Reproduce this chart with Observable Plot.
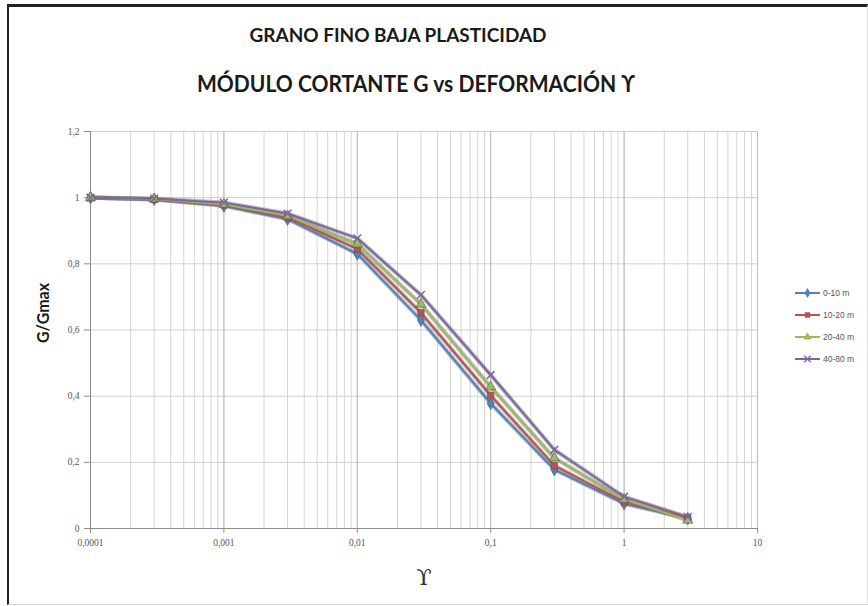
<!DOCTYPE html>
<html>
<head>
<meta charset="utf-8">
<script src="https://cdn.jsdelivr.net/npm/d3@7"></script>
<script src="https://cdn.jsdelivr.net/npm/@observablehq/plot@0.6"></script>
<style>
  html, body { margin: 0; padding: 0; background: #fff; }
  #wrap { position: relative; width: 868px; height: 606px; overflow: hidden; background: #fff; }
  #wrap svg.plot { position: absolute; left: 0; top: 0; }
  #frame { position: absolute; left: 7px; top: 4px; width: 861px; height: 601px; box-sizing: border-box;
           border-left: 2px solid #222; border-top: 3px solid #222; border-right: 1px solid #e4e4e4; border-bottom: 1px solid #d4d4d4; }
</style>
</head>
<body>
<div id="wrap"></div>
<script>
// ---- data ----
const gamma = [0.0001, 0.0003, 0.001, 0.003, 0.01, 0.03, 0.1, 0.3, 1, 3];
const seriesNames = ["0-10 m", "10-20 m", "20-40 m", "40-80 m"];
const g0_10  = [1.000, 0.995, 0.975, 0.935, 0.830, 0.630, 0.378, 0.178, 0.075, 0.030];
const g10_20 = [1.000, 0.995, 0.978, 0.940, 0.845, 0.652, 0.402, 0.190, 0.080, 0.032];
const g20_40 = [1.000, 0.996, 0.980, 0.945, 0.860, 0.678, 0.428, 0.213, 0.088, 0.025];
const g40_80 = [1.000, 0.997, 0.985, 0.952, 0.877, 0.706, 0.464, 0.238, 0.096, 0.035];
const xTicks = [0.0001, 0.001, 0.01, 0.1, 1, 10];
const xTickLabels = ["0,0001", "0,001", "0,01", "0,1", "1", "10"];
const yTicks = [0, 0.2, 0.4, 0.6, 0.8, 1, 1.2];
const yTickLabels = ["0", "0,2", "0,4", "0,6", "0,8", "1", "1,2"];
const titleText = "GRANO FINO BAJA PLASTICIDAD";
const subtitleText = "MÓDULO CORTANTE G vs DEFORMACIÓN ϒ";
const yLabel = "G/Gmax";
const xLabel = "ϒ";

// ---- styles ----
const colors = ["#4F81BD", "#C0504D", "#9BBB59", "#8064A2"];
const symbols = ["diamond", "square", "triangle", "times"];

const allSeries = [g0_10, g10_20, g20_40, g40_80];
const rows = [];
allSeries.forEach((vals, si) => vals.forEach((v, i) => rows.push({series: seriesNames[si], x: gamma[i], y: v})));

// minor grid positions (log decades)
const minor = [];
for (let e = -4; e < 1; e++) for (let m = 1; m <= 9; m++) minor.push(m * Math.pow(10, e));
minor.push(10);

const fmtX = d => xTickLabels[xTicks.findIndex(t => Math.abs(t - d) / t < 1e-6)];
const fmtY = d => yTickLabels[yTicks.findIndex(t => Math.abs(t - d) < 1e-6)];

const marks = [
  Plot.ruleX(minor, {stroke: "#d4d4d4", strokeWidth: 1}),
  Plot.ruleY(yTicks.filter(d => d > 0), {stroke: "#cfcfcf", strokeWidth: 1}),
  Plot.ruleX(xTicks.slice(1), {stroke: "#bdbdbd", strokeWidth: 1}),
  Plot.ruleY([0], {stroke: "#8c8c8c"}),
  Plot.ruleX([0.0001], {stroke: "#8c8c8c"}),
  Plot.axisX({ticks: xTicks, tickFormat: fmtX, tickSize: 5, tickPadding: 6, stroke: "#8c8c8c", fill: "#555", fontSize: 9.5, fontFamily: "Liberation Serif, serif", label: null}),
  Plot.axisY({ticks: yTicks, tickFormat: fmtY, tickSize: 6, tickPadding: 5, stroke: "#8c8c8c", fill: "#555", fontSize: 9.5, fontFamily: "Liberation Serif, serif", label: null}),
];
seriesNames.forEach((name, si) => {
  const d = rows.filter(r => r.series === name);
  marks.push(Plot.line(d, {x: "x", y: "y", stroke: "#6f6f6f", strokeWidth: 4.2, strokeOpacity: 0.45}));
});
seriesNames.forEach((name, si) => {
  const d = rows.filter(r => r.series === name);
  marks.push(Plot.line(d, {x: "x", y: "y", stroke: colors[si], strokeWidth: 2}));
});
seriesNames.forEach((name, si) => {
  const d = rows.filter(r => r.series === name);
  if (symbols[si] === "times") {
    marks.push(Plot.dot(d, {x: "x", y: "y", symbol: "times", r: 3.6, stroke: colors[si], strokeWidth: 1.5}));
  } else {
    marks.push(Plot.dot(d, {x: "x", y: "y", symbol: symbols[si], r: symbols[si] === "square" ? 3.6 : 3.8, fill: colors[si], stroke: "#555", strokeWidth: 0.6}));
  }
});

const chart = Plot.plot({
  width: 868, height: 606,
  marginLeft: 90, marginRight: 111, marginTop: 131, marginBottom: 78,
  x: {type: "log", domain: [0.0001, 10]},
  y: {domain: [0, 1.2]},
  style: {background: "transparent", overflow: "visible"},
  marks
});
chart.classList.add("plot");

const wrap = document.getElementById("wrap");
const frame = document.createElement("div"); frame.id = "frame"; wrap.appendChild(frame);
wrap.appendChild(chart);

// titles as SVG overlay (fit widths)
const ns = "http://www.w3.org/2000/svg";
const over = document.createElementNS(ns, "svg");
over.setAttribute("width", 868); over.setAttribute("height", 606);
over.style.position = "absolute"; over.style.left = "0"; over.style.top = "0"; over.style.pointerEvents = "none";
function addText(txt, x, y, size, opts = {}) {
  const t = document.createElementNS(ns, "text");
  t.textContent = txt;
  t.setAttribute("x", x); t.setAttribute("y", y);
  t.setAttribute("font-size", size);
  t.setAttribute("font-family", opts.family || "Lato, 'Open Sans', sans-serif");
  t.setAttribute("font-weight", opts.weight || "bold");
  t.setAttribute("fill", opts.fill || "#1a1a1a");
  t.setAttribute("text-anchor", opts.anchor || "middle");
  t.setAttribute("dominant-baseline", "central");
  if (opts.len) { t.setAttribute("textLength", opts.len); t.setAttribute("lengthAdjust", "spacingAndGlyphs"); }
  if (opts.rotate) t.setAttribute("transform", `rotate(-90 ${x} ${y})`);
  over.appendChild(t);
  return t;
}
addText(titleText, 398, 35, 18.5, {len: 297});
addText(subtitleText, 416, 83, 23.5, {len: 438});
addText(yLabel, 42, 313, 17, {rotate: true, len: 60});
addText(xLabel, 424, 577, 22, {weight: "normal", family: "DejaVu Serif, serif", fill: "#333"});

// legend
const legY = [293, 315, 337, 359];
seriesNames.forEach((name, si) => {
  const y = legY[si];
  const l = document.createElementNS(ns, "line");
  l.setAttribute("x1", 795); l.setAttribute("x2", 820); l.setAttribute("y1", y); l.setAttribute("y2", y);
  l.setAttribute("stroke", colors[si]); l.setAttribute("stroke-width", 2);
  over.appendChild(l);
  const sym = d3.symbol().type(
    symbols[si] === "diamond" ? d3.symbolDiamond :
    symbols[si] === "square" ? d3.symbolSquare :
    symbols[si] === "triangle" ? d3.symbolTriangle : d3.symbolTimes
  ).size(30);
  const p = document.createElementNS(ns, "path");
  p.setAttribute("d", sym());
  p.setAttribute("transform", `translate(807.5,${y})`);
  if (symbols[si] === "times") { p.setAttribute("fill", "none"); p.setAttribute("stroke", colors[si]); p.setAttribute("stroke-width", 1.4); }
  else { p.setAttribute("fill", colors[si]); }
  over.appendChild(p);
  addText(name, 823, y, 8.5, {anchor: "start", weight: "normal", family: "Liberation Sans, sans-serif", fill: "#555"});
});
wrap.appendChild(over);
</script>
</body>
</html>
